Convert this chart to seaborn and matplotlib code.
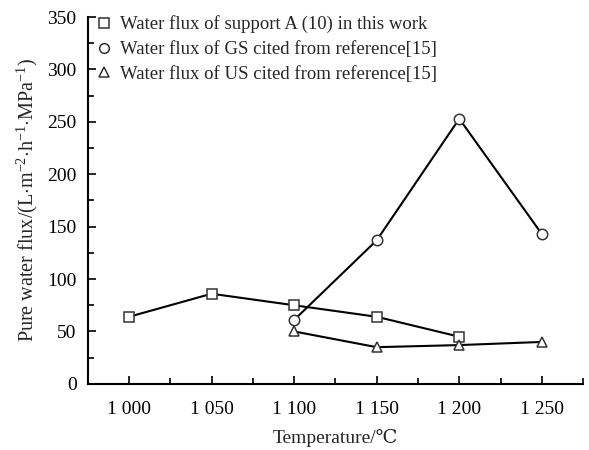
import matplotlib
matplotlib.use("Agg")
import matplotlib.pyplot as plt
import seaborn as sns
import pandas as pd
from matplotlib.ticker import MultipleLocator

sns.set_theme(style="ticks")
plt.rcParams['font.family'] = ['Liberation Serif', 'DejaVu Serif']
plt.rcParams['mathtext.fontset'] = 'custom'
plt.rcParams['mathtext.rm'] = 'Liberation Serif'
plt.rcParams['mathtext.it'] = 'Liberation Serif:italic'

temp_a = [1000, 1050, 1100, 1150, 1200]
flux_a = [64, 86, 75, 64, 45]
temp_gs = [1100, 1150, 1200, 1250]
flux_gs = [61, 137, 253, 143]
temp_us = [1100, 1150, 1200, 1250]
flux_us = [50, 35, 37, 40]

labels = ["Water flux of support A (10) in this work",
          "Water flux of GS cited from reference[15]",
          "Water flux of US cited from reference[15]"]
xticks = [1000, 1050, 1100, 1150, 1200, 1250]
xticklabels = ["1 000", "1 050", "1 100", "1 150", "1 200", "1 250"]

fig = plt.figure(figsize=(5.89, 4.5), dpi=100)
ax = fig.add_axes([0.149, 0.147, 0.841, 0.815])

fs = 14
for t, f, m, lab in [(temp_a, flux_a, 's', labels[0]),
                     (temp_gs, flux_gs, 'o', labels[1]),
                     (temp_us, flux_us, '^', labels[2])]:
    df = pd.DataFrame({"T": t, "F": f})
    sns.lineplot(data=df, x="T", y="F", ax=ax, color='black', linewidth=1.5,
                 marker=m, markersize=7.5, markerfacecolor='white',
                 markeredgecolor='#333333', markeredgewidth=1.1, label=lab)

ax.set_xlim(975, 1275)
ax.set_ylim(0, 350)
ax.set_xticks(xticks)
ax.set_xticklabels(xticklabels)
ax.xaxis.set_minor_locator(MultipleLocator(25))
ax.yaxis.set_major_locator(MultipleLocator(50))
ax.yaxis.set_minor_locator(MultipleLocator(25))
ax.tick_params(which='both', direction='in', width=1.2, colors='black', labelsize=fs)
ax.tick_params(which='major', length=6)
ax.tick_params(which='minor', length=4)
ax.tick_params(axis='x', pad=12)
ax.tick_params(axis='y', pad=8)
for s in ['top', 'right']:
    ax.spines[s].set_visible(False)
for s in ['left', 'bottom']:
    ax.spines[s].set_linewidth(1.5)
    ax.spines[s].set_color('black')

ax.set_xlabel("Temperature/℃", fontsize=fs, labelpad=8)
ax.set_ylabel(r"Pure water flux/(L$\cdot$m$^{-2}$$\cdot$h$^{-1}$$\cdot$MPa$^{-1}$)",
              fontsize=14.5, labelpad=5)

leg = ax.legend(loc='upper left', frameon=False, fontsize=13.5, handlelength=0,
                handletextpad=0.85, labelspacing=0.4, borderaxespad=0.2,
                bbox_to_anchor=(0.01, 1.035))
for h in leg.legend_handles:
    h.set_linestyle('None')
    h.set_markersize(7)

fig.savefig("out.png", dpi=100)
